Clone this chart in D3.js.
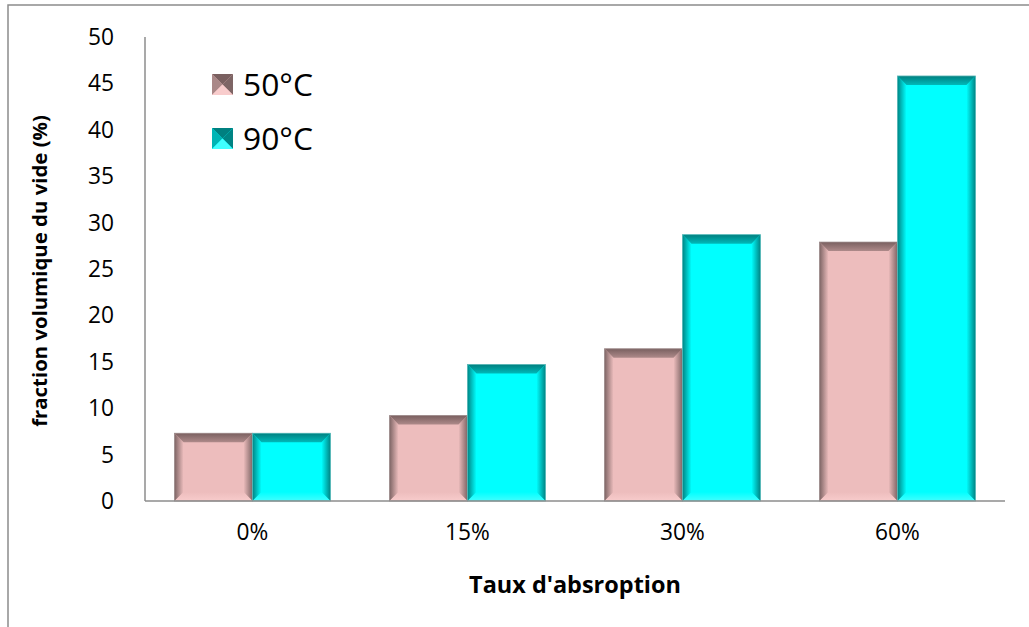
<!DOCTYPE html>
<html><head><meta charset="utf-8">
<script src="https://cdn.jsdelivr.net/npm/d3@7"></script>
<style>body{margin:0;background:#fff}svg{display:block}</style>
</head><body><svg id="c" width="1029" height="627"></svg>
<script>
const categories = ["0%", "15%", "30%", "60%"];
const seriesNames = ["50°C", "90°C"];
const values50 = [7.3, 9.2, 16.4, 27.9];
const values90 = [7.3, 14.7, 28.7, 45.8];
const yTicks = [0,5,10,15,20,25,30,35,40,45,50];

const svg = d3.select("#c");
const font = "'Open Sans', Lato, sans-serif";
const m = {l:145, r:1005, t:37, b:501};
const x = d3.scaleBand().domain(categories).range([m.l, m.r]).paddingInner(0.275).paddingOuter(0.1375);
const xs = d3.scaleBand().domain(seriesNames).range([0, x.bandwidth()]);
const y = d3.scaleLinear().domain([0,50]).range([m.b, m.t]);

function fit(sel, target){
  const n = sel.node(); const fs = parseFloat(sel.attr("font-size"));
  const w = n.getComputedTextLength(); if (w>0) sel.attr("font-size", fs*target/w);
}

// frame
svg.append("rect").attr("x",8).attr("y",5).attr("width",1040).attr("height",640)
  .attr("fill","none").attr("stroke","#8c8c8c").attr("stroke-width",1.5);

const styles = {
  "50°C": {face:"#EDBDBD", top:"#7A6060", dark:"#7E6565", bottom:"#F8CCCC", edge:"#9a8a8a", key:"p"},
  "90°C": {face:"#00FFFF", top:"#008080", dark:"#008484", bottom:"#40FFFF", edge:"#5fb5b5", key:"c"}
};

const defs = svg.append("defs");
Object.values(styles).forEach(st=>{
  const mk = (id, x1,y1,x2,y2, stops) => {
    const lg = defs.append("linearGradient").attr("id",id).attr("x1",x1).attr("y1",y1).attr("x2",x2).attr("y2",y2);
    stops.forEach(s=>lg.append("stop").attr("offset",s[0]).attr("stop-color",s[1]));
  };
  mk("L"+st.key,0,0,1,0,[[0,st.dark],[1,st.face]]);
  mk("R"+st.key,0,0,1,0,[[0,st.face],[1,st.dark]]);
  mk("T"+st.key,0,0,0,1,[[0,st.top],[1,d3.interpolateRgb(st.top,st.face)(0.45)]]);
  mk("B"+st.key,0,0,0,1,[[0,st.face],[1,st.bottom]]);
});

const data = [];
categories.forEach((c,i)=>{
  data.push({c, s:"50°C", v:values50[i]});
  data.push({c, s:"90°C", v:values90[i]});
});

const g = svg.append("g");
data.forEach(d=>{
  const x0 = x(d.c)+xs(d.s), w = xs.bandwidth();
  const y0 = y(d.v), y1 = y(0), h = y1-y0;
  const st = styles[d.s];
  const b = Math.min(9, h/2, w/2);
  const x1 = x0+w;
  g.append("rect").attr("x",x0).attr("y",y0).attr("width",w).attr("height",h).attr("fill",st.face);
  const poly = (pts, fill) => g.append("polygon").attr("points", pts.map(p=>p.join(",")).join(" ")).attr("fill",fill);
  poly([[x0,y0],[x0+b,y0+b],[x0+b,y1-b],[x0,y1]], `url(#L${st.key})`);
  poly([[x1,y0],[x1,y1],[x1-b,y1-b],[x1-b,y0+b]], `url(#R${st.key})`);
  poly([[x0,y1],[x0+b,y1-b],[x1-b,y1-b],[x1,y1]], `url(#B${st.key})`);
  poly([[x0,y0],[x1,y0],[x1-b,y0+b],[x0+b,y0+b]], `url(#T${st.key})`);
  g.append("rect").attr("x",x0).attr("y",y0).attr("width",w).attr("height",h)
    .attr("fill","none").attr("stroke",st.edge).attr("stroke-width",0.8);
});

// axes lines
svg.append("line").attr("x1",m.l).attr("x2",m.l).attr("y1",m.t).attr("y2",m.b).attr("stroke","#8c8c8c").attr("stroke-width",1.5);
svg.append("line").attr("x1",m.l).attr("x2",m.r).attr("y1",m.b).attr("y2",m.b).attr("stroke","#8c8c8c").attr("stroke-width",1.5);

// determine tick font size so that "50" is ~26px wide
const probe = svg.append("text").attr("font-family",font).attr("font-size",20).text("50");
const pw = probe.node().getComputedTextLength();
const tickFs = pw>0 ? 20*26/pw : 20;
probe.remove();

// y tick labels
svg.append("g").selectAll("text").data(yTicks).join("text")
  .attr("x",114).attr("y",d=>y(d)).attr("dy","0.35em").attr("text-anchor","end")
  .attr("font-family",font).attr("font-size",tickFs).attr("fill","#000").text(d=>d);

// x tick labels
svg.append("g").selectAll("text").data(categories).join("text")
  .attr("x",d=>x(d)+x.bandwidth()/2).attr("y",532).attr("dy","0.35em").attr("text-anchor","middle")
  .attr("font-family",font).attr("font-size",tickFs).attr("fill","#000").text(d=>d);

// axis titles
const xt = svg.append("text").attr("x",575).attr("y",585).attr("dy","0.35em").attr("text-anchor","middle")
  .attr("font-family",font).attr("font-size",19).attr("font-weight","bold").text("Taux d'absroption");
fit(xt, 212);
const yt = svg.append("text").attr("transform","translate(40,271) rotate(-90)").attr("dy","0.35em").attr("text-anchor","middle")
  .attr("font-family",font).attr("font-size",19).attr("font-weight","bold").text("fraction volumique du vide (%)");
fit(yt, 312);

// legend
const lg = svg.append("g");
seriesNames.forEach((s,i)=>{
  const st = styles[s];
  const lx = 212, ly = 74 + i*54, sz = 21, c = sz/2;
  lg.append("rect").attr("x",lx).attr("y",ly).attr("width",sz).attr("height",sz).attr("fill",st.face);
  const tri = (pts, fill) => lg.append("polygon").attr("points", pts.map(p=>p.join(",")).join(" ")).attr("fill",fill);
  tri([[lx,ly],[lx+sz,ly],[lx+c,ly+c]], st.top);
  tri([[lx,ly],[lx+c,ly+c],[lx,ly+sz]], d3.interpolateRgb(st.dark,st.face)(0.4));
  tri([[lx+sz,ly],[lx+sz,ly+sz],[lx+c,ly+c]], st.dark);
  tri([[lx,ly+sz],[lx+c,ly+c],[lx+sz,ly+sz]], st.bottom);
  const t = lg.append("text").attr("x",243).attr("y",ly+c).attr("dy","0.36em")
    .attr("font-family",font).attr("font-size",28).attr("fill","#000").text(s);
  fit(t, 70);
});
</script></body></html>
